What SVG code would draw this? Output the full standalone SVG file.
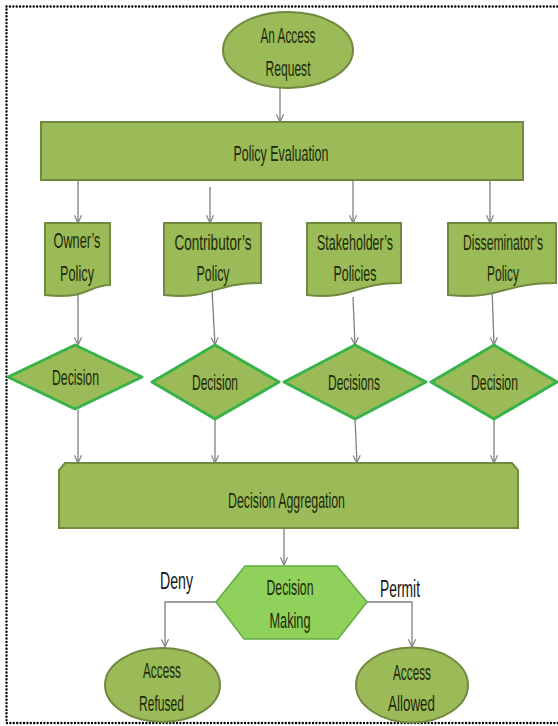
<svg xmlns="http://www.w3.org/2000/svg" width="558" height="726" viewBox="0 0 558 726">
<defs>
<marker id="arr" viewBox="0 0 10 10" refX="9.5" refY="5" markerWidth="9" markerHeight="9" markerUnits="userSpaceOnUse" orient="auto">
<path d="M1,1 L9.5,5 L1,9" fill="none" stroke="#7f7f7f" stroke-width="1.3"/>
</marker>
<style>
.olive{fill:#9bbb59;stroke:#71893f;stroke-width:2}
.dia{fill:#9bbb59;stroke:#37b34a;stroke-width:3;stroke-linejoin:round}
.hex{fill:#8fd15a;stroke:#62ac44;stroke-width:1.5}
.t{font-family:"Liberation Sans Narrow","Liberation Sans",Arial,sans-serif;font-size:22px;fill:#1d2a08;text-anchor:middle}
.lbl{font-family:"Liberation Sans Narrow","Liberation Sans",Arial,sans-serif;font-size:23px;fill:#151515;text-anchor:middle}
.c{fill:none;stroke:#7f7f7f;stroke-width:1.3}
</style>
</defs>
<rect x="6.5" y="6.5" width="560" height="716.5" fill="none" stroke="#000" stroke-width="2.4" stroke-dasharray="0 3.4" stroke-linecap="round"/>

<g id="connectors">
<path class="c" d="M280,88 V122" marker-end="url(#arr)"/>
<path class="c" d="M78,180 V223" marker-end="url(#arr)"/>
<path class="c" d="M210,187 V223" marker-end="url(#arr)"/>
<path class="c" d="M353,180 V223" marker-end="url(#arr)"/>
<path class="c" d="M490,180 V223" marker-end="url(#arr)"/>
<path class="c" d="M78,293 V345" marker-end="url(#arr)"/>
<path class="c" d="M212,290 L215,345" marker-end="url(#arr)"/>
<path class="c" d="M353,297 L355,345" marker-end="url(#arr)"/>
<path class="c" d="M492,288 L494,345" marker-end="url(#arr)"/>
<path class="c" d="M78,410 V463" marker-end="url(#arr)"/>
<path class="c" d="M215,419 V463" marker-end="url(#arr)"/>
<path class="c" d="M355,419 L357,463" marker-end="url(#arr)"/>
<path class="c" d="M494,419 V463" marker-end="url(#arr)"/>
<path class="c" d="M284,528 V565" marker-end="url(#arr)"/>
<path class="c" d="M216,602 H165 V647" marker-end="url(#arr)"/>
<path class="c" d="M367,602 H412 V647" marker-end="url(#arr)"/>
</g>

<g id="request">
<ellipse class="olive" cx="288" cy="50" rx="65" ry="38"/>
<text class="t" x="288" y="43" textLength="55" lengthAdjust="spacingAndGlyphs">An Access</text>
<text class="t" x="288" y="76" textLength="45" lengthAdjust="spacingAndGlyphs">Request</text>
</g>

<g id="policy-evaluation">
<rect class="olive" x="41" y="122" width="482" height="58"/>
<text class="t" x="281" y="161" textLength="95" lengthAdjust="spacingAndGlyphs">Policy Evaluation</text>
</g>

<g id="owner-policy">
<path class="olive" d="M45,223 H110 V285 C88,285 88,300 45,295 Z"/>
<text class="t" x="77" y="248" textLength="47" lengthAdjust="spacingAndGlyphs">Owner’s</text>
<text class="t" x="77" y="281" textLength="34" lengthAdjust="spacingAndGlyphs">Policy</text>
</g>

<g id="contributor-policy">
<path class="olive" d="M164,223 H261 V283 C212,283 212,300 164,295 Z"/>
<text class="t" x="213" y="250" textLength="77" lengthAdjust="spacingAndGlyphs">Contributor’s</text>
<text class="t" x="213" y="281" textLength="33" lengthAdjust="spacingAndGlyphs">Policy</text>
</g>

<g id="stakeholder-policies">
<path class="olive" d="M307,223 H401 V283 C354,283 354,300 307,295 Z"/>
<text class="t" x="355" y="250" textLength="76" lengthAdjust="spacingAndGlyphs">Stakeholder’s</text>
<text class="t" x="355" y="281" textLength="43" lengthAdjust="spacingAndGlyphs">Policies</text>
</g>

<g id="disseminator-policy">
<path class="olive" d="M448,223 H556 V283 C502,283 502,300 448,295 Z"/>
<text class="t" x="503" y="250" textLength="80" lengthAdjust="spacingAndGlyphs">Disseminator’s</text>
<text class="t" x="503" y="281" textLength="32" lengthAdjust="spacingAndGlyphs">Policy</text>
</g>

<g id="decision-1">
<polygon class="dia" points="75,345 142,377 75,409 8,377"/>
<text class="t" x="75.5" y="385" textLength="47" lengthAdjust="spacingAndGlyphs">Decision</text>
</g>

<g id="decision-2">
<polygon class="dia" points="215,345 279,382 215,419 152,382"/>
<text class="t" x="215" y="390" textLength="46" lengthAdjust="spacingAndGlyphs">Decision</text>
</g>

<g id="decision-3">
<polygon class="dia" points="355,345 426,382 355,419 284,382"/>
<text class="t" x="354" y="390" textLength="52" lengthAdjust="spacingAndGlyphs">Decisions</text>
</g>

<g id="decision-4">
<polygon class="dia" points="494,345 557,382 494,419 431,382"/>
<text class="t" x="494.5" y="390" textLength="47" lengthAdjust="spacingAndGlyphs">Decision</text>
</g>

<g id="decision-aggregation">
<path class="olive" d="M65,463 H512 L518,470 V528 H59 V470 Z"/>
<text class="t" x="286.5" y="508" textLength="117" lengthAdjust="spacingAndGlyphs">Decision Aggregation</text>
</g>

<g id="decision-making">
<polygon class="hex" points="216,602 245,566 337,566 367,602 338,639 244,639"/>
<text class="t" x="290" y="595" textLength="47" lengthAdjust="spacingAndGlyphs">Decision</text>
<text class="t" x="290" y="628" textLength="41" lengthAdjust="spacingAndGlyphs">Making</text>
</g>

<g id="labels">
<text class="lbl" x="176.5" y="589" textLength="33" lengthAdjust="spacingAndGlyphs">Deny</text>
<text class="lbl" x="400" y="597" textLength="40" lengthAdjust="spacingAndGlyphs">Permit</text>
</g>

<g id="access-refused">
<ellipse class="olive" cx="162.5" cy="685" rx="57.5" ry="37"/>
<text class="t" x="162" y="678" textLength="38" lengthAdjust="spacingAndGlyphs">Access</text>
<text class="t" x="161.5" y="711" textLength="45" lengthAdjust="spacingAndGlyphs">Refused</text>
</g>

<g id="access-allowed">
<ellipse class="olive" cx="412" cy="685" rx="56" ry="37.5"/>
<text class="t" x="412" y="680" textLength="38" lengthAdjust="spacingAndGlyphs">Access</text>
<text class="t" x="411.5" y="711" textLength="47" lengthAdjust="spacingAndGlyphs">Allowed</text>
</g>
</svg>
